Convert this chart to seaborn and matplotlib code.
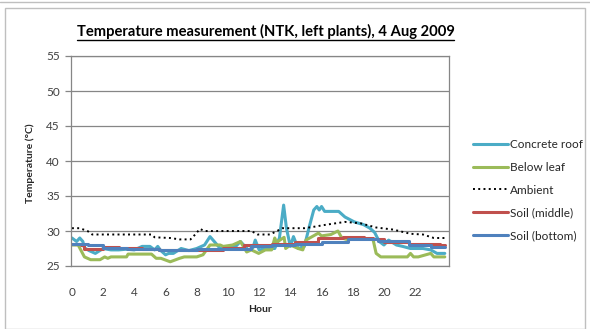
import numpy as np
import pandas as pd
import matplotlib
matplotlib.use("Agg")
import matplotlib.pyplot as plt
import seaborn as sns
from matplotlib.lines import Line2D
from matplotlib.patches import Rectangle

sns.set_theme(style="white")
plt.rcParams['font.family'] = ['Lato', 'DejaVu Sans']

# ---------------- data ----------------
title = "Temperature measurement (NTK, left plants), 4 Aug 2009"
series_names = ["Concrete roof", "Below leaf", "Ambient", "Soil (middle)", "Soil (bottom)"]
x_ticks = [0, 2, 4, 6, 8, 10, 12, 14, 16, 18, 20, 22]
y_ticks = [25, 30, 35, 40, 45, 50, 55]

roof_h = [0, 0.3, 0.5, 0.7, 0.8, 1.1, 1.5, 2.0, 2.5, 3.0, 3.5, 4.0, 4.5, 5.0, 5.3, 5.5, 5.7,
          6.0, 6.2, 6.5, 7.0, 7.5, 8.0, 8.5, 8.85, 9.2, 9.5, 10.0, 10.5, 10.8, 11.3, 11.6,
          11.75, 12.0, 12.5, 13.0, 13.3, 13.57, 13.75, 14.0, 14.2, 14.5, 14.9, 15.2, 15.5,
          15.7, 15.85, 16.0, 16.2, 16.6, 17.1, 17.5, 18.1, 18.7, 19.1, 19.4, 19.7, 20.0,
          20.3, 20.8, 21.2, 21.7, 22.5, 23.0, 23.4, 23.9]
roof_t = [29.0, 28.5, 29.0, 28.5, 27.6, 27.2, 26.8, 27.5, 27.3, 27.3, 27.4, 27.3, 27.8, 27.8,
          27.3, 27.8, 27.2, 26.6, 26.8, 26.8, 27.5, 27.2, 27.5, 28.0, 29.2, 28.3, 27.5, 27.7,
          27.8, 28.5, 27.3, 27.6, 28.7, 27.3, 27.5, 27.5, 29.0, 33.7, 30.4, 27.8, 29.2, 27.5,
          27.8, 30.5, 33.0, 33.5, 33.0, 33.5, 32.8, 32.8, 32.8, 32.0, 31.3, 30.9, 30.4, 29.8,
          28.5, 28.0, 28.7, 28.0, 27.8, 27.5, 27.5, 27.3, 26.8, 26.8]

leaf_h = [0, 0.4, 0.8, 1.2, 1.8, 2.1, 2.3, 2.5, 3.5, 3.6, 5.1, 5.4, 5.7, 6.3, 6.9, 7.2, 8.0,
          8.4, 8.85, 9.5, 9.7, 10.3, 10.8, 11.2, 11.5, 11.97, 12.4, 12.8, 13.0, 13.1, 13.2,
          13.6, 13.7, 14.0, 14.5, 14.8, 15.0, 15.4, 15.8, 16.0, 16.6, 17.05, 17.3, 17.6,
          19.3, 19.5, 19.8, 21.5, 21.7, 21.9, 22.2, 23.0, 23.2, 23.9]
leaf_t = [28.0, 28.0, 26.3, 25.9, 25.9, 26.3, 26.1, 26.3, 26.3, 26.7, 26.7, 26.1, 26.1, 25.6,
          26.1, 26.3, 26.3, 26.6, 28.0, 28.0, 27.8, 28.0, 28.5, 27.0, 27.3, 26.8, 27.3, 27.3,
          29.0, 28.4, 28.5, 29.1, 27.5, 28.0, 27.5, 27.3, 28.7, 29.2, 29.7, 29.3, 29.5, 30.0,
          29.0, 28.8, 28.8, 26.8, 26.3, 26.3, 26.8, 26.3, 26.3, 26.8, 26.3, 26.3]

amb_h = [0, 0.5, 1.0, 1.3, 5.1, 5.3, 6.3, 6.9, 7.6, 7.9, 8.2, 8.5, 11.5, 11.9, 12.7, 13.5,
         14.9, 15.5, 16.3, 16.9, 17.5, 18.5, 19.5, 20.6, 21.7, 22.5, 23.2, 23.9]
amb_t = [30.4, 30.4, 30.0, 29.5, 29.5, 29.1, 29.0, 28.8, 28.8, 29.5, 30.3, 30.0, 30.0, 29.5,
         29.5, 30.4, 30.4, 30.6, 30.9, 31.1, 31.3, 31.1, 30.5, 30.2, 29.6, 29.5, 29.0, 29.0]

mid_h = [0, 0.6, 0.8, 2.0, 3.0, 4.5, 5.6, 9.7, 11.0, 12.8, 14.3, 15.8, 17.4, 18.7, 19.3,
         20.0, 21.6, 23.6, 23.9]
mid_t = [28.2, 28.0, 27.5, 27.7, 27.6, 27.4, 27.3, 27.6, 28.0, 28.2, 28.5, 29.0, 29.2, 29.0,
         28.8, 28.5, 28.2, 28.0, 28.0]

bot_h = [0, 1.0, 2.0, 3.5, 5.6, 8.0, 10.5, 11.5, 12.8, 14.3, 16.0, 17.7, 19.6, 21.6, 23.0, 23.9]
bot_t = [28.2, 28.0, 27.6, 27.5, 27.3, 27.4, 27.5, 27.8, 28.0, 28.2, 28.5, 28.8, 28.6, 28.0,
         27.7, 27.7]

colors = ["#4BACC6", "#9BBB59", "#000000", "#C0504D", "#4F81BD"]

# ---------------- figure ----------------
W, H = 590, 329
fig = plt.figure(figsize=(W / 100, H / 100), dpi=100)
fig.patch.set_facecolor("white")

# outer chart frame
fig.add_artist(Rectangle((5 / W, 0), 580 / W, (H - 8) / H, transform=fig.transFigure,
                         fill=False, edgecolor="#BFBFBF", lw=1.0))
fig.add_artist(Line2D([0, 1], [1 - 1.5 / H, 1 - 1.5 / H], transform=fig.transFigure,
                      color="#BFBFBF", lw=1.0))

ax = fig.add_axes([71 / W, (H - 266) / H, 378 / W, 210 / H])
ax.set_facecolor("white")

frames = [
    pd.DataFrame({"Hour": roof_h, "T": roof_t}),
    pd.DataFrame({"Hour": leaf_h, "T": leaf_t}),
    pd.DataFrame({"Hour": amb_h, "T": amb_t}),
    pd.DataFrame({"Hour": mid_h, "T": mid_t}),
    pd.DataFrame({"Hour": bot_h, "T": bot_t}),
]
styles = [
    dict(lw=2.2),
    dict(lw=2.2),
    dict(lw=1.4, dashes=(1, 1.7)),
    dict(lw=2.2, drawstyle="steps-post"),
    dict(lw=2.2, drawstyle="steps-post"),
]
for df, name, c, st in zip(frames, series_names, colors, styles):
    sns.lineplot(data=df, x="Hour", y="T", ax=ax, color=c, label=name,
                 estimator=None, sort=False, **st)

ax.set_xlim(-0.06, 24.17)
ax.set_ylim(25, 55)
ax.set_xticks(x_ticks)
ax.set_xticklabels([str(v) for v in x_ticks])
ax.set_yticks(y_ticks)
ax.set_yticklabels([str(v) for v in y_ticks])
ax.grid(axis="y", color="#868686", lw=0.9)
ax.grid(axis="x", visible=False)
ax.set_axisbelow(True)
for s in ax.spines.values():
    s.set_color("#868686")
    s.set_linewidth(0.9)
    s.set_visible(True)
ax.tick_params(axis="y", length=4, width=0.9, color="#868686", pad=4,
               labelsize=8.5, labelcolor="#404040", left=True)
ax.tick_params(axis="x", length=0, pad=15, labelsize=8.5, labelcolor="#404040")
ax.set_xlabel("")
ax.set_ylabel("")

fig.text(260 / W, 1 - 310 / H, "Hour", ha="center", va="center",
         fontsize=7.5, fontweight="bold", color="#262626")
fig.text(30 / W, 1 - 163 / H, "Temperature (°C)", ha="center", va="center",
         rotation=90, fontsize=7.5, fontweight="bold", color="#262626")

t = fig.text(265.5 / W, 1 - 31 / H, title, ha="center", va="center",
             fontsize=10.6, fontweight="bold", color="#000000")

leg = ax.legend(loc="upper left", bbox_to_anchor=(473 / W, 1 - 139 / H),
                bbox_transform=fig.transFigure, frameon=False, fontsize=8.5,
                handlelength=2.97, handletextpad=0.2, labelspacing=1.0,
                borderpad=0, borderaxespad=0)
for txt in leg.get_texts():
    txt.set_color("#262626")

fig.canvas.draw()
bb = t.get_window_extent()
uy = bb.y0 - 1.0
fig.add_artist(Line2D([bb.x0 / W, bb.x1 / W], [uy / H, uy / H],
                      transform=fig.transFigure, color="black", lw=1.0))

fig.savefig("out.png", dpi=100)
